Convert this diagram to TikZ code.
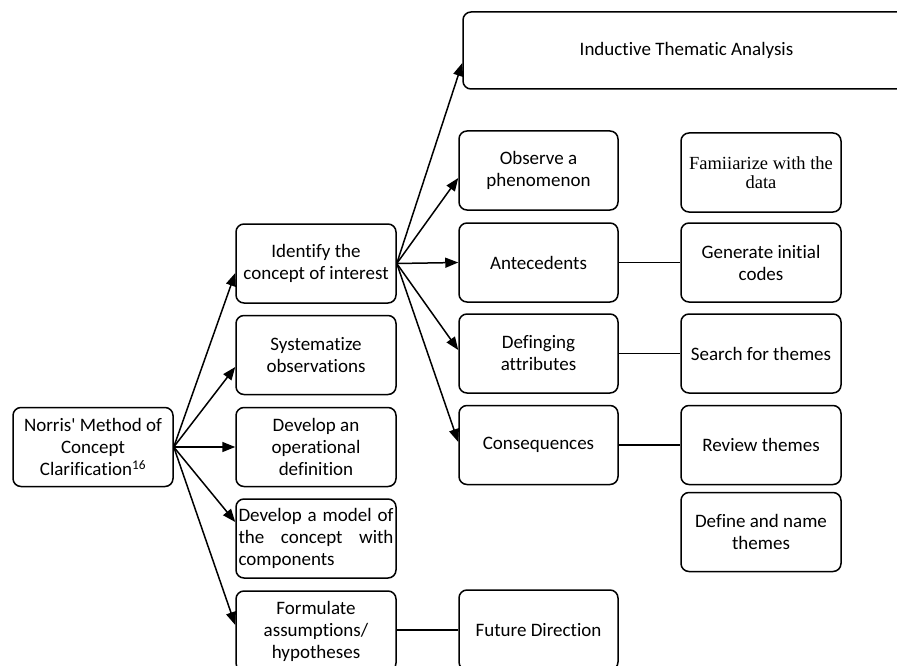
\documentclass[tikz,border=0pt]{standalone}
\usepackage{fontspec}
\setmainfont{Carlito}[Ligatures={TeXOff,NoCommon}]
\newfontfamily\serifbox{Liberation Serif}[Ligatures={TeXOff,NoCommon}]
\usetikzlibrary{arrows.meta}
\begin{document}
\begin{tikzpicture}[x=1pt,y=-1pt,
  box/.style={draw, line width=1.5pt, rounded corners=8pt, minimum width=160pt, minimum height=79pt,
    align=center, inner sep=0pt, font=\fontsize{19}{22}\selectfont},
  arr/.style={line width=1.5pt, -{Triangle[length=13pt,width=10pt]}},
  link/.style={line width=1.5pt}]
\useasboundingbox (0,0) rectangle (897,666);
\clip (0,0) rectangle (897,666);
% left
\node[box] (norris) at (93,447) {Norris' Method of\\Concept\\Clarification\textsuperscript{16}};
% middle column
\node[box] (ident) at (316,263.5) {Identify the\\concept of interest};
\node[box] (syst) at (316,355) {Systematize\\observations};
\node[box] (oper) at (316,447) {Develop an\\operational\\definition};
\node[box, align=justify, text width=155pt] (model) at (316,538.5) {Develop a model of\linebreak the concept with\linebreak components};
\node[box, minimum height=80pt] (form) at (316,631) {Formulate\\assumptions/\\hypotheses};
% second column
\node[box, minimum width=447pt, minimum height=77pt] (ita) at (686.5,50.5) {Inductive Thematic Analysis};
\node[box, minimum width=159pt] (obs) at (538.5,170.5) {Observe a\\phenomenon};
\node[box, minimum width=159pt] (ante) at (538.5,262.5) {Antecedents};
\node[box, minimum width=159pt] (defa) at (538.5,353.5) {Definging\\attributes};
\node[box, minimum width=159pt] (cons) at (538.5,445) {Consequences};
\node[box, minimum width=159pt, minimum height=80pt] (fut) at (538.5,630) {Future Direction};
% right column
\node[box, font=\serifbox\fontsize{18.5}{19}\selectfont] (fam) at (761,172.5) {Famiiarize with the\\data};
\node[box] (gen) at (761,262.5) {Generate initial\\codes};
\node[box] (search) at (761,353.5) {Search for themes};
\node[box] (rev) at (761,445) {Review themes};
\node[box] (defn) at (761,532) {Define and name\\themes};
% arrows from Norris
\draw[arr] (norris.east) -- ([yshift=-9.5pt]ident.west);
\draw[arr] (norris.east) -- ([yshift=-12pt]syst.west);
\draw[arr] (norris.east) -- (oper.west);
\draw[arr] (norris.east) -- ([yshift=16.5pt]model.west);
\draw[arr] (norris.east) -- ([yshift=6pt]form.west);
% arrows from Identify
\draw[arr] (ident.east) -- ([yshift=-12.5pt]ita.west);
\draw[arr] (ident.east) -- ([yshift=-7.5pt]obs.west);
\draw[arr] (ident.east) -- (ante.west);
\draw[arr] (ident.east) -- ([yshift=3.5pt]defa.west);
\draw[arr] (ident.east) -- ([yshift=3pt]cons.west);
% links
\draw[link] (ante.east) -- (gen.west);
\draw[link] (defa.east) -- (search.west);
\draw[link] (cons.east) -- (rev.west);
\draw[link] (form.east |- fut.west) -- (fut.west);
\end{tikzpicture}
\end{document}
